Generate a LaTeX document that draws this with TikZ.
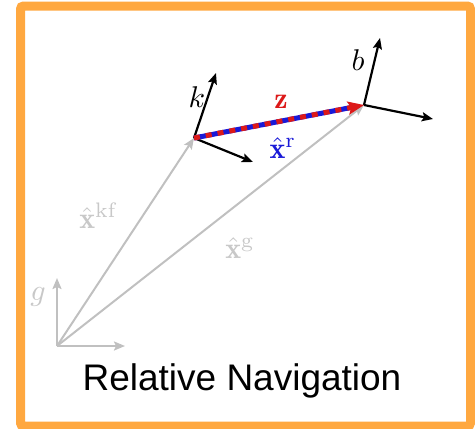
\documentclass[tikz,border=0pt]{standalone}
\usepackage{amsmath}
\usepackage{graphicx}
\usepackage{fontspec}
\newfontfamily\titlefont{Liberation Sans}
\usetikzlibrary{arrows.meta}
\definecolor{frameorange}{RGB}{255,168,64}
\definecolor{vecgray}{RGB}{192,192,192}
\definecolor{labgray}{RGB}{200,200,200}
\definecolor{zred}{RGB}{220,25,25}
\definecolor{zblue}{RGB}{25,25,215}
\newcommand{\biglab}[1]{\scalebox{3}{#1}}
\tikzset{
  axis/.style={line width=2.2pt,-{Stealth[length=11pt,width=9pt,inset=2pt]}},
  grayvec/.style={line width=2pt,vecgray,-{Stealth[length=11pt,width=9pt,inset=2pt]}},
  mlabel/.style={inner sep=0pt},
}
\begin{document}
\begin{tikzpicture}[x=1pt,y=-1pt]
\useasboundingbox (0,0) rectangle (475,429);
\draw[frameorange,line width=9pt,rounded corners=3pt] (20.5,6) rectangle (470.5,426);
% points
\coordinate (G) at (57,346);
\coordinate (gx) at (125,346);
\coordinate (gy) at (57,278);
\coordinate (K) at (194,138);
\coordinate (ku) at (216,73);
\coordinate (kr) at (253,162);
\coordinate (B) at (364,105);
\coordinate (bu) at (380,38);
\coordinate (br) at (433,119);
% global frame
\draw[grayvec] (G) -- (gx);
\draw[grayvec] (G) -- (gy);
% gray vectors
\draw[grayvec] (G) -- (K);
\draw[grayvec] (G) -- (B);
% keyframe and body axes
\draw[axis] (K) -- (ku);
\draw[axis] (K) -- (kr);
\draw[axis] (B) -- (bu);
\draw[axis] (B) -- (br);
% relative measurement
\draw[zblue,line width=5pt,shorten >=10pt] (K) -- (B);
\draw[zred,line width=5pt,dash pattern=on 6pt off 6pt,-{Stealth[length=16pt,width=13pt,inset=3pt]}] (K) -- (B);
% labels
\node[mlabel,labgray] (lg) at (38,297) {\biglab{$g$}};
\node[mlabel] (lk) at (197,97) {\biglab{$k$}};
\node[mlabel] (lb) at (358,60) {\biglab{$b$}};
\node[mlabel,zred] (lz) at (281,102) {\biglab{$\mathbf{z}$}};
\node[mlabel,zblue] (lxr) at (283,148) {\biglab{$\hat{\mathbf{x}}^{\mathrm{r}}$}};
\node[mlabel,labgray] (lxkf) at (98,216) {\biglab{$\hat{\mathbf{x}}^{\mathrm{kf}}$}};
\node[mlabel,labgray] (lxg) at (240,248) {\biglab{$\hat{\mathbf{x}}^{\mathrm{g}}$}};
\node[font=\titlefont\fontsize{37}{40}\selectfont,inner sep=0pt] (title) at (242,381) {Relative Navigation};
\end{tikzpicture}
\end{document}
